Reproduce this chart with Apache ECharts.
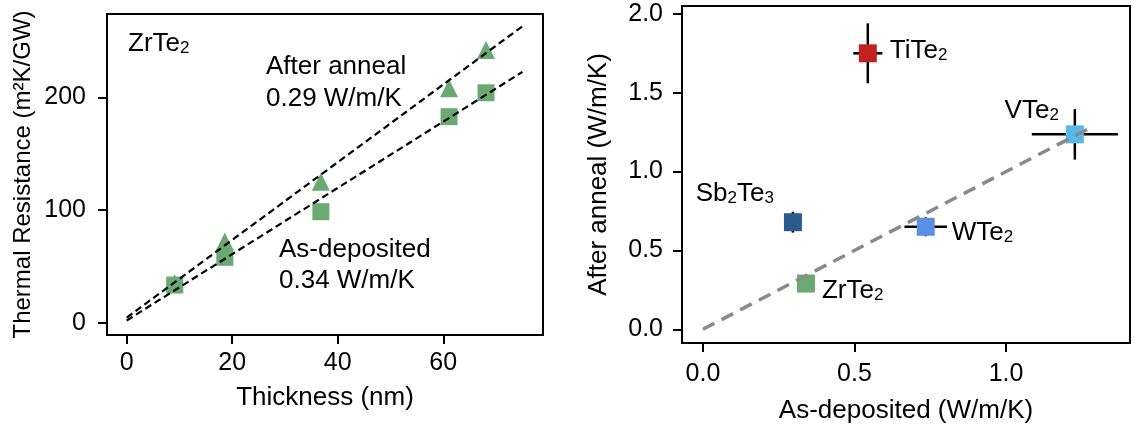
<!DOCTYPE html>
<html>
<head>
<meta charset="utf-8">
<script src="https://cdn.jsdelivr.net/npm/echarts@6/dist/echarts.min.js"></script>
<style>
html, body { margin: 0; padding: 0; background: #fff; }
#chart { width: 1134px; height: 429px; }
</style>
</head>
<body>
<div id="chart"></div>
<script>
// left panel: ZrTe2 thermal resistance vs film thickness
const thickness = [9.1, 18.6, 36.8, 61.1, 68.1];
const annealed = [35, 72, 125, 208, 242];
const deposited = [33.4, 58, 98.5, 182.8, 204];
const fitAnnealX = [0, 75];
const fitAnnealY = [4.5, 263];
const fitDepX = [0, 75];
const fitDepY = [2, 222.5];
const leftXTicks = [0, 20, 40, 60];
const leftYTicks = [0, 100, 200];

// right panel: conductivity after anneal vs as-deposited
const materials = ['Sb2Te3', 'ZrTe2', 'TiTe2', 'WTe2', 'VTe2'];
const asDep = [0.297, 0.34, 0.544, 0.735, 1.227];
const afterAnn = [0.679, 0.29, 1.75, 0.65, 1.236];
const asDepErr = [0, 0, 0.048, 0.07, 0.142];
const afterErr = [0.066, 0, 0.19, 0.06, 0.16];
const matColors = ['#2b5b8a', '#6aaa72', '#c3211f', '#5b8fe3', '#56b9e8'];
const parityX = [0, 1.29];
const parityY = [0, 1.29];
const rightXTicks = [0, 0.5, 1.0];
const rightYTicks = [0, 0.5, 1.0, 1.5, 2.0];

const FONT = 'Liberation Sans, Arial, sans-serif';
const INK = '#000';
const GREEN = '#6aaa72';

// label placement next to each material square
const labelPlace = {
  Sb2Te3: { position: 'left', distance: 10, offset: [0, -28] },
  ZrTe2: { position: 'right', distance: 7, offset: [0, 7] },
  TiTe2: { position: 'right', distance: 13, offset: [0, -2] },
  WTe2: { position: 'right', distance: 17, offset: [0, 6] },
  VTe2: { position: 'left', distance: 7, offset: [0, -24] }
};

const richSub = {
  m: { fontSize: 26, fontFamily: FONT, color: INK, lineHeight: 26 },
  s: { fontSize: 17, fontFamily: FONT, color: INK, lineHeight: 12, verticalAlign: 'bottom' }
};

// "TiTe2" -> rich string with subscript digits
function chem(name) {
  return name.replace(/([A-Za-z]+)|(\d+)/g, (m, letters, digits) =>
    letters ? '{m|' + letters + '}' : '{s|' + digits + '}');
}

function zip(xs, ys) {
  return xs.map((x, i) => [x, ys[i]]);
}

function valueAxis(gridIndex, o) {
  return {
    type: 'value',
    gridIndex: gridIndex,
    min: o.min,
    max: o.max,
    name: o.name,
    nameLocation: 'middle',
    nameGap: o.nameGap,
    nameTextStyle: { fontSize: o.nameSize || 26, fontFamily: FONT, color: INK },
    axisLine: { show: true, onZero: false, lineStyle: { color: INK, width: 2 } },
    axisTick: { show: true, length: 9, lineStyle: { color: INK, width: 2 }, customValues: o.ticks },
    axisLabel: {
      fontSize: 25, fontFamily: FONT, color: INK, margin: o.margin,
      customValues: o.ticks, formatter: o.fmt
    },
    splitLine: { show: false }
  };
}

const errorBars = materials.map((m, i) => [asDep[i], afterAnn[i], asDepErr[i], afterErr[i]]);

const option = {
  animation: false,
  backgroundColor: '#fff',
  grid: [
    { left: 107, top: 14, width: 436, height: 321, show: true, borderColor: INK, borderWidth: 2 },
    { left: 682, top: 6, width: 448, height: 337, show: true, borderColor: INK, borderWidth: 2 }
  ],
  xAxis: [
    valueAxis(0, { min: -3.73, max: 78.9, ticks: leftXTicks, name: 'Thickness (nm)', nameGap: 50, margin: 16 }),
    valueAxis(1, { min: -0.069, max: 1.409, ticks: rightXTicks, name: 'As-deposited (W/m/K)', nameGap: 55, margin: 19,
      fmt: v => v.toFixed(1) })
  ],
  yAxis: [
    valueAxis(0, { min: -10.9, max: 273.9, ticks: leftYTicks, name: 'Thermal Resistance (m\u00b2K/GW)', nameGap: 72,
      nameSize: 24, margin: 21 }),
    valueAxis(1, { min: -0.087, max: 2.05, ticks: rightYTicks, name: 'After anneal (W/m/K)', nameGap: 70, margin: 19,
      fmt: v => v.toFixed(1) })
  ],
  graphic: [
    { type: 'text', x: 128, y: 44, style: { text: chem('ZrTe2'), rich: richSub, verticalAlign: 'middle' } },
    { type: 'text', x: 266, y: 67, style: { text: 'After anneal', font: '26px ' + FONT, fill: INK, verticalAlign: 'middle' } },
    { type: 'text', x: 266, y: 99, style: { text: '0.29 W/m/K', font: '26px ' + FONT, fill: INK, verticalAlign: 'middle' } },
    { type: 'text', x: 279, y: 250, style: { text: 'As-deposited', font: '26px ' + FONT, fill: INK, verticalAlign: 'middle' } },
    { type: 'text', x: 279, y: 281, style: { text: '0.34 W/m/K', font: '26px ' + FONT, fill: INK, verticalAlign: 'middle' } }
  ],
  series: [
    {
      type: 'line', xAxisIndex: 0, yAxisIndex: 0, data: zip(fitAnnealX, fitAnnealY),
      symbol: 'none', lineStyle: { color: INK, width: 2.2, type: [7, 4] }
    },
    {
      type: 'line', xAxisIndex: 0, yAxisIndex: 0, data: zip(fitDepX, fitDepY),
      symbol: 'none', lineStyle: { color: INK, width: 2.2, type: [7, 4] }
    },
    {
      type: 'scatter', xAxisIndex: 0, yAxisIndex: 0, data: zip(thickness, annealed),
      symbol: 'triangle', symbolSize: 18, itemStyle: { color: GREEN, opacity: 1 }
    },
    {
      type: 'scatter', xAxisIndex: 0, yAxisIndex: 0, data: zip(thickness, deposited),
      symbol: 'rect', symbolSize: 17, itemStyle: { color: GREEN, opacity: 1 }
    },
    {
      type: 'line', xAxisIndex: 1, yAxisIndex: 1, data: zip(parityX, parityY),
      symbol: 'none', lineStyle: { color: '#8a8a8a', width: 3.5, type: [13, 8] }
    },
    {
      type: 'custom', xAxisIndex: 1, yAxisIndex: 1, data: errorBars,
      encode: { x: 0, y: 1 },
      renderItem: function (params, api) {
        const x = api.value(0), y = api.value(1), ex = api.value(2), ey = api.value(3);
        const style = { stroke: INK, lineWidth: 2.5 };
        const children = [];
        if (ex > 0) {
          const a = api.coord([x - ex, y]), b = api.coord([x + ex, y]);
          children.push({ type: 'line', shape: { x1: a[0], y1: a[1], x2: b[0], y2: b[1] }, style: style });
        }
        if (ey > 0) {
          const a = api.coord([x, y - ey]), b = api.coord([x, y + ey]);
          children.push({ type: 'line', shape: { x1: a[0], y1: a[1], x2: b[0], y2: b[1] }, style: style });
        }
        return { type: 'group', children: children };
      }
    },
    {
      type: 'scatter', xAxisIndex: 1, yAxisIndex: 1, symbol: 'rect', symbolSize: 18,
      data: materials.map((m, i) => ({
        value: [asDep[i], afterAnn[i]],
        itemStyle: { color: matColors[i], opacity: 1 },
        label: Object.assign({
          show: true,
          formatter: chem(m),
          rich: richSub
        }, labelPlace[m])
      }))
    }
  ]
};

const chart = echarts.init(document.getElementById('chart'), null, { renderer: 'canvas' });
chart.setOption(option);
</script>
</body>
</html>
